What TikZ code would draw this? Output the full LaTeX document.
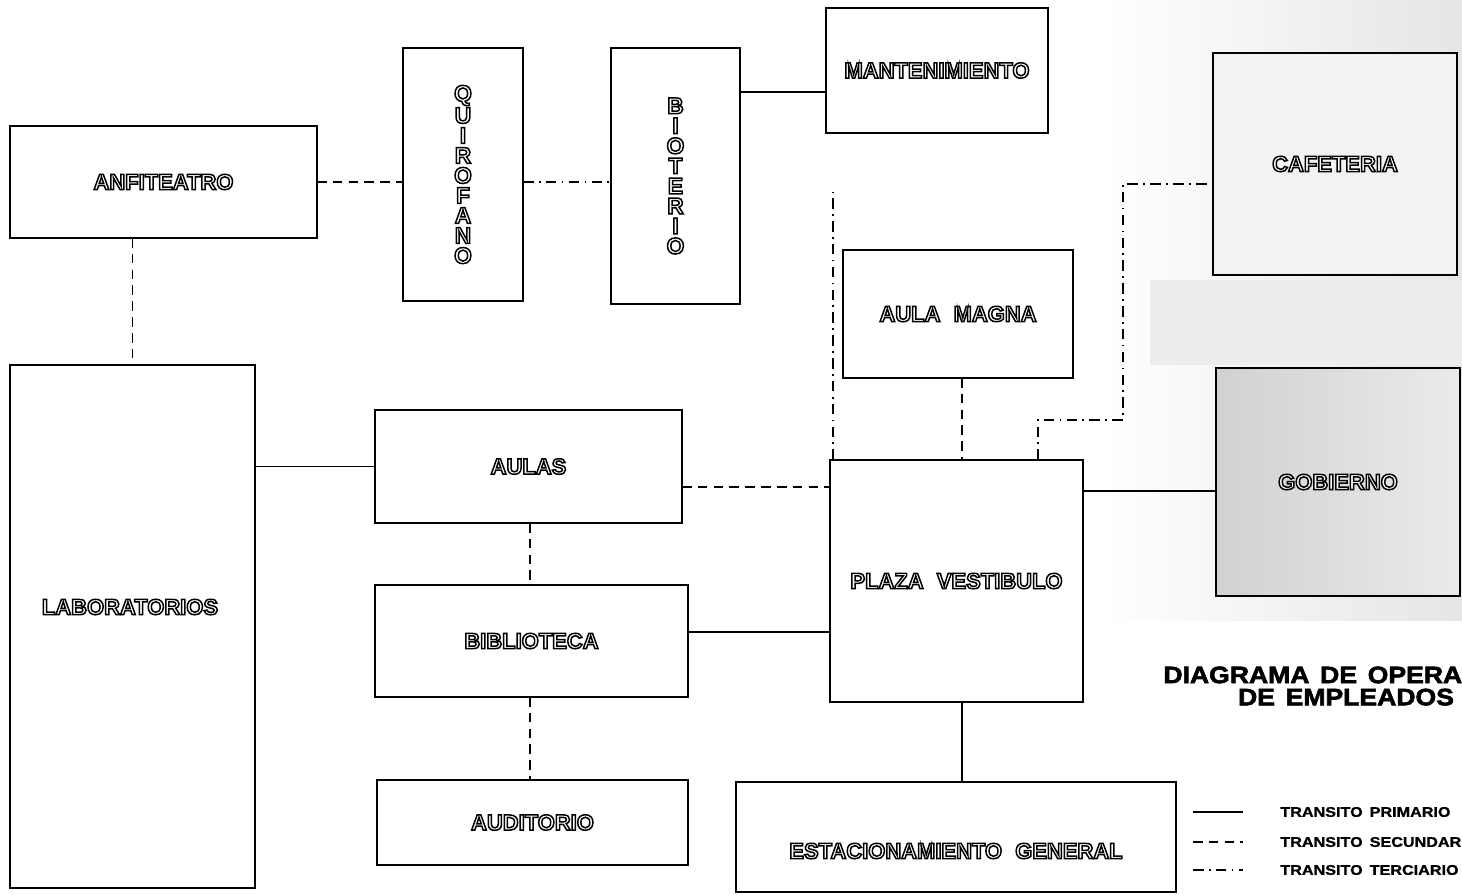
\documentclass[tikz,border=0pt]{standalone}
\usepackage{fontspec}
\setmainfont{Liberation Sans}
\newfontfamily\heavyfont{Liberation Sans Bold}[FakeBold=1.2, FakeStretch=1.15]
\newfontfamily\titlefont{Liberation Sans Bold}[FakeBold=2.6, FakeStretch=1.12]
\usepackage{tikz}
\usetikzlibrary{calc,positioning}

% white letters with a black rim (text render mode 2)
\newcommand{\outl}[1]{\special{pdf:literal direct 2 Tr 0.85 w 0 G}#1\special{pdf:literal direct 0 Tr}}
\newcommand{\pxl}{0.02cm}

\tikzset{
  room/.style={draw, line width=1.6pt, fill=white, inner sep=0pt, outer sep=0pt,
    text=white, font=\bfseries\fontsize{12.5}{12.5}\selectfont},
  roomtxt/.style={text=white, inner sep=0pt, font=\bfseries\fontsize{12.5}{12.5}\selectfont},
  stack/.style={align=center, text=white, font=\bfseries\fontsize{13}{11.4}\selectfont},
  primary/.style={line width=0.9pt},
  secondary/.style={line width=0.9pt, dash pattern=on 5.5pt off 3.5pt},
  tertiary/.style={line width=0.9pt, dash pattern=on 6pt off 3pt on 1pt off 3pt},
  legendtxt/.style={anchor=west, inner sep=0pt, font=\heavyfont\fontsize{8}{8}\selectfont}
}

\begin{document}
\begin{tikzpicture}[x=0.02cm, y=-0.02cm]
  \useasboundingbox (0,0) rectangle (1462,894);
  \clip (0,0) rectangle (1462,894);
  % shaded zone round cafeteria and gobierno
  \fill[left color=white, right color=gray!20] (1100,0) rectangle (1462,620);
  \fill[gray!14] (1150,280) rectangle (1462,365);

  % rooms
  \node[room, minimum width=307*\pxl, minimum height=112*\pxl] (anf) at (163.5,182) {\outl{ANFITEATRO}};
  \node[room, minimum width=120*\pxl, minimum height=253*\pxl] (quir) at (463,174.5) {};
  \node[stack] (quirtxt) at (quir.center) {\outl{Q}\\\outl{U}\\\outl{I}\\\outl{R}\\\outl{O}\\\outl{F}\\\outl{A}\\\outl{N}\\\outl{O}};
  \node[room, minimum width=129*\pxl, minimum height=256*\pxl] (bio) at (675.5,176) {};
  \node[stack] (biotxt) at (bio.center) {\outl{B}\\\outl{I}\\\outl{O}\\\outl{T}\\\outl{E}\\\outl{R}\\\outl{I}\\\outl{O}};
  \node[room, minimum width=222*\pxl, minimum height=125*\pxl] (mant) at (937,70.5) {\outl{MANTENIMIENTO}};
  \node[room, fill=gray!10, minimum width=244*\pxl, minimum height=222*\pxl] (cafe) at (1335,164) {\outl{CAFETERIA}};
  \node[room, left color=gray!36, right color=gray!16, minimum width=244*\pxl, minimum height=228*\pxl] (gob) at (1338,482) {\outl{GOBIERNO}};
  \node[room, minimum width=230*\pxl, minimum height=128*\pxl] (amag) at (958,314) {\outl{AULA\hspace{0.6em}MAGNA}};
  \node[room, minimum width=253*\pxl, minimum height=242*\pxl] (plaza) at (956.5,581) {\outl{PLAZA\hspace{0.6em}VESTIBULO}};
  \node[room, minimum width=245*\pxl, minimum height=523*\pxl] (lab) at (132.5,626.5) {};
  \node[roomtxt] (labtxt) at (130,607) {\outl{LABORATORIOS}};
  \node[room, minimum width=307*\pxl, minimum height=113*\pxl] (aulas) at (528.5,466.5) {\outl{AULAS}};
  \node[room, minimum width=313*\pxl, minimum height=112*\pxl] (bibl) at (531.5,641) {\outl{BIBLIOTECA}};
  \node[room, minimum width=311*\pxl, minimum height=85*\pxl] (audit) at (532.5,822.5) {\outl{AUDITORIO}};
  \node[room, minimum width=440*\pxl, minimum height=110*\pxl] (estac) at (956,837) {};
  \node[roomtxt] (estactxt) at (956,851) {\outl{ESTACIONAMIENTO\hspace{0.6em}GENERAL}};

  % connections
  \draw[secondary] (anf.east) -- (quir.west |- anf.east);
  \draw[tertiary] (quir.east |- anf.east) -- (bio.west |- anf.east);
  \draw[primary] (bio.east |- 0,92) -- (mant.west |- 0,92);
  \draw[secondary] (anf.south -| lab.north) -- (lab.north);
  \draw[primary] (lab.east |- aulas.west) -- (aulas.west);
  \draw[secondary] (aulas.east |- 0,487) -- (plaza.west |- 0,487);
  \draw[secondary] (aulas.south -| 530,0) -- (bibl.north -| 530,0);
  \draw[primary] (bibl.east |- 0,632) -- (plaza.west |- 0,632);
  \draw[secondary] (bibl.south -| 530,0) -- (audit.north -| 530,0);
  \draw[secondary] (amag.south -| 962,0) -- (plaza.north -| 962,0);
  \draw[primary] (plaza.east |- 0,491) -- (gob.west |- 0,491);
  \draw[primary] (plaza.south -| 962,0) -- (estac.north -| 962,0);
  \draw[tertiary] (plaza.north -| 1038,0) |- (1123,420) |- (cafe.west |- 0,184);
  \coordinate (mantend) at (833,192);
  \draw[tertiary] (plaza.north -| mantend) -- (mantend);

  % title
  \node[align=center, inner sep=0pt, font=\titlefont\fontsize{13.5}{12.6}\selectfont] (title) at (1346,686)
    {DIAGRAMA\hspace{0.45em}DE\hspace{0.45em}OPERACION\\DE\hspace{0.45em}EMPLEADOS};

  % legend
  \foreach \sty/\txt/\yy in {primary/PRIMARIO/812, secondary/SECUNDARIO/842, tertiary/TERCIARIO/870}{
    \coordinate (\sty-a) at (1193,\yy);
    \coordinate (\sty-b) at (1243,\yy);
    \draw[\sty] (\sty-a) -- (\sty-b);
    \node[legendtxt] (\sty-txt) at (1280,\yy) {TRANSITO\hspace{0.5em}\txt};
  }
\end{tikzpicture}
\end{document}
